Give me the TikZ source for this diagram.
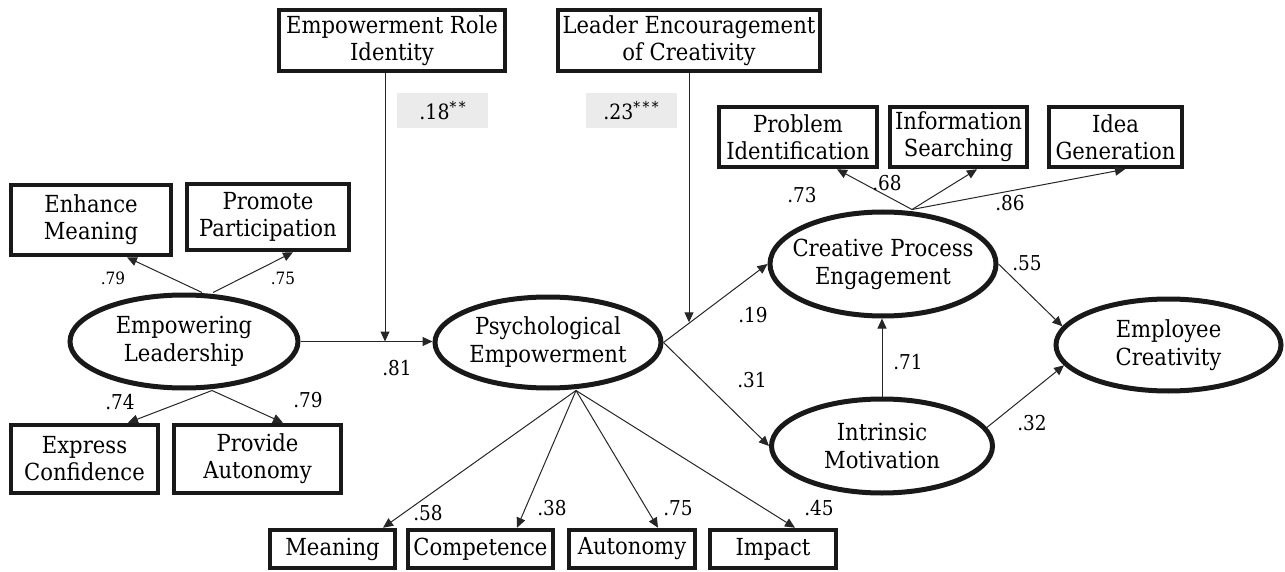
\documentclass[tikz,border=0pt]{standalone}
\usepackage{fontspec}
\setmainfont{DejaVu Serif}[FakeStretch=0.9]
\usetikzlibrary{arrows.meta,shapes.geometric,calc}
\newcommand{\sigstars}[1]{\raisebox{7pt}{\fontsize{15}{15}\selectfont #1}}
\begin{document}
\begin{tikzpicture}[x=1pt,y=-1pt,
  box/.style={draw=black!90, line width=4.5pt, fill=white, align=center, inner sep=0pt,
    font=\fontsize{23.5}{27}\selectfont},
  lat/.style={ellipse, draw=black!90, line width=5pt, fill=white, align=center,
    inner xsep=-40pt, inner ysep=-20pt, font=\fontsize{23.5}{28}\selectfont},
  conn/.style={line width=1pt, draw=black!85, -{Triangle[length=10pt,width=9pt]}},
  lab/.style={font=\fontsize{20.5}{22}\selectfont, inner sep=0pt},
  slab/.style={font=\fontsize{17}{19}\selectfont, inner sep=0pt},
  gbox/.style={fill=black!8, minimum width=91pt, minimum height=35pt, inner sep=0pt,
    font=\fontsize{21}{22}\selectfont}]
\useasboundingbox (0,0) rectangle (1285,572);

% top moderator boxes
\node[box, minimum width=226pt, minimum height=61pt] (eri) at (392,40.5) {Empowerment Role\\Identity};
\node[box, minimum width=262pt, minimum height=61pt] (lec) at (689,40.5) {Leader Encouragement\\of Creativity};
\node[gbox] (g18) at (442.5,110.5) {.18\sigstars{*\,*}};
\node[gbox] (g23) at (631,110.5) {.23\sigstars{*\,*\,*}};

% empowering leadership indicators
\node[box, minimum width=160pt, minimum height=70pt] (em) at (91,220) {Enhance\\Meaning};
\node[box, minimum width=162pt, minimum height=66pt] (pp) at (268,217) {Promote\\Participation};
\node[box, minimum width=147pt, minimum height=68pt] (ec) at (84.5,459) {Express\\Confidence};
\node[box, minimum width=167pt, minimum height=68pt] (pa) at (257.5,459) {Provide\\Autonomy};

% latent variables
\node[lat, minimum width=228pt, minimum height=93pt] (el) at (184,341.5) {Empowering\\Leadership};
\node[lat, minimum width=226pt, minimum height=91pt] (pe) at (548,342.5) {Psychological\\Empowerment};
\node[lat, minimum width=226pt, minimum height=104pt] (cpe) at (883,264) {Creative Process\\Engagement};
\node[lat, minimum width=221pt, minimum height=94pt] (im) at (882,446) {Intrinsic\\Motivation};
\node[lat, minimum width=225pt, minimum height=92pt] (ecr) at (1168.5,345) {Employee\\Creativity};

% psychological empowerment indicators
\node[box, minimum width=125pt, minimum height=38pt] (mean) at (332.5,549) {Meaning};
\node[box, minimum width=145pt, minimum height=38pt] (comp) at (480.5,549) {Competence};
\node[box, minimum width=126pt, minimum height=38pt] (auto) at (632,549) {Autonomy};
\node[box, minimum width=126pt, minimum height=38pt] (imp) at (773,549) {Impact};

% creative process indicators
\node[box, minimum width=158pt, minimum height=60pt] (pi) at (798,137) {Problem\\Identification};
\node[box, minimum width=137pt, minimum height=60pt] (is) at (958.5,137) {Information\\Searching};
\node[box, minimum width=133pt, minimum height=60pt] (ig) at (1115.5,137) {Idea\\Generation};

% connectors: empowering leadership
\draw[conn] ([xshift=18pt]el.north) -- ([xshift=36pt]em.south);
\draw[conn] ([xshift=29pt]el.north) -- ([xshift=25pt]pp.south);
\draw[conn] ([xshift=28pt]el.south) -- ([xshift=43.5pt]ec.north);
\draw[conn] ([xshift=28pt]el.south) -- ([xshift=25.5pt]pa.north);
\draw[conn] (el.east) -- (el.east -| pe.west);
\draw[conn] ([xshift=-7pt]eri.south) -- ([xshift=-7pt]eri.south |- el.east);

% psychological empowerment
\coordinate (peB) at ([xshift=28pt]pe.south);
\draw[conn] (peB) -- ([xshift=50.5pt]mean.north);
\draw[conn] (peB) -- ([xshift=36.5pt]comp.north);
\draw[conn] (peB) -- ([xshift=26pt]auto.north);
\draw[conn] (peB) -- ([xshift=22pt]imp.north);
\draw[conn] (pe.east) -- (cpe.west);
\draw[conn] (pe.east) -- (im.west);
\coordinate (j2) at ($(pe.east)!0.257!(cpe.west)$);
\draw[conn] (lec.south) -- (lec.south |- j2);

% creative process engagement
\coordinate (cpT) at ([xshift=29pt]cpe.north);
\draw[conn] (cpT) -- ([xshift=39pt]pi.south);
\draw[conn] (cpT) -- ([xshift=18.5pt]is.south);
\draw[conn] (cpT) -- ([xshift=9.5pt]ig.south);
\draw[conn] (im.north) -- (im.north |- cpe.south);
\draw[conn] (cpe.east) -- (ecr.170);
\draw[conn] (im.10) -- (ecr.191);

% path labels
\node[slab] at (113,278) {.79};
\node[slab] at (283,278) {.75};
\node[lab] at (120,402) {.74};
\node[lab] at (308,400) {.79};
\node[lab] at (397,368) {.81};
\node[lab] at (428,513) {.58};
\node[lab] at (552,508) {.38};
\node[lab] at (678,508) {.75};
\node[lab] at (819,508) {.45};
\node[lab] at (753,315) {.19};
\node[lab] at (752,380) {.31};
\node[lab] at (908,362) {.71};
\node[lab] at (802,195) {.73};
\node[lab] at (887,183) {.68};
\node[lab] at (1010,203) {.86};
\node[lab] at (1027,263) {.55};
\node[lab] at (1032,423) {.32};
\end{tikzpicture}
\end{document}
